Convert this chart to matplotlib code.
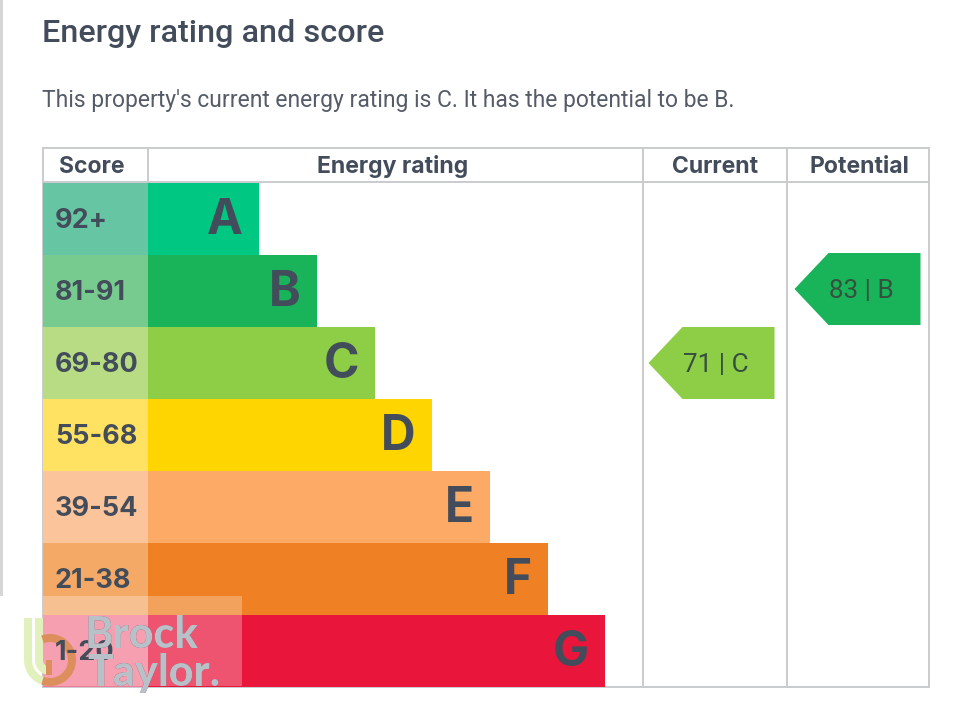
"""Energy rating chart."""
import matplotlib
matplotlib.use('Agg')
import matplotlib.pyplot as plt
from matplotlib.patches import Polygon, Rectangle, Arc

# values
score_labels = ['92+', '81-91', '69-80', '55-68', '39-54', '21-38', '1-20']
rating_letters = ['A', 'B', 'C', 'D', 'E', 'F', 'G']
bar_colors = ['#00c781', '#19b459', '#8dce46', '#ffd500', '#fcaa65', '#ef8023', '#e9153b']
cell_colors = ['#66c6a3', '#78cb8f', '#b7dc84', '#ffe261', '#fcc49b', '#f4a967', '#f27c95']
bar_lengths = [111, 169, 227, 284, 342, 400, 457]
headers = ['Score', 'Energy rating', 'Current', 'Potential']

current_value = 71
current_letter = 'C'
potential_value = 83
potential_letter = 'B'

TEXT = '#434c5a'
LINE = '#c9cbce'
GREEN_LOGO = '#e2f0bd'
ORANGE_LOGO = '#dc8f5c'

plt.rcParams['font.family'] = 'Roboto'

fig = plt.figure(figsize=(9.71, 7.2), dpi=100)
ax = fig.add_axes([0, 0, 1, 1])
ax.set_xlim(0, 971)
ax.set_ylim(720, 0)
ax.axis('off')


def px(size):
    return size * 0.72


# page edge
ax.add_patch(Rectangle((0, 0), 2.5, 596, color='#d6d6d6', lw=0))

# headings
ax.text(42, 34, 'Energy rating and score', fontsize=px(32.4), color=TEXT,
        fontweight='medium', va='center', ha='left')
ax.text(42, 101, "This property's current energy rating is C. It has the potential to be B.",
        fontsize=px(22.85), color='#555c68', va='center', ha='left')

# table lines, under the bars
for x in [43, 643, 787, 929]:
    ax.plot([x, x], [148, 687], color=LINE, lw=1.4, zorder=0.5)
ax.plot([148, 148], [148, 182], color=LINE, lw=1.4, zorder=0.5)
for y in [148, 182, 687]:
    ax.plot([43, 929], [y, y], color=LINE, lw=1.4, zorder=0.5)

# bars
row_top = 183
row_h = 72
bar_left = 148
for i, length in enumerate(bar_lengths):
    y = row_top + i * row_h
    ax.barh(y + row_h / 2, 105, height=row_h, left=43, color=cell_colors[i], lw=0)
    ax.barh(y + row_h / 2, length, height=row_h, left=bar_left, color=bar_colors[i], lw=0)
    ax.text(55, y + row_h / 2 + 2, score_labels[i], fontsize=px(27), fontweight='bold',
            color=TEXT, ha='left', va='center', family='Inter', zorder=7.5 if i == 6 else 3)
    ax.text(bar_left + length - 16, y + row_h / 2 + 2, rating_letters[i], fontsize=px(48),
            fontweight='bold', color=TEXT, ha='right', va='center', family='Inter')

header_x = [92, 393, 715, 859]
for x, label in zip(header_x, headers):
    ax.text(x, 167, label, fontsize=px(23), fontweight='bold', color=TEXT,
            ha='center', va='center', family='Inter')


def arrow(right, top, color, label):
    left = right - 126
    pts = [(left, top + 36), (left + 34, top), (right, top), (right, top + 72), (left + 34, top + 72)]
    ax.add_patch(Polygon(pts, closed=True, color=color, lw=0, zorder=3))
    ax.text(left + 67, top + 38, label, fontsize=px(26), color='#36503f',
            ha='center', va='center', zorder=4)


arrow(774.5, 327, bar_colors[rating_letters.index(current_letter)],
      f'{current_value} | {current_letter}')
arrow(920.5, 253, bar_colors[rating_letters.index(potential_letter)],
      f'{potential_value} | {potential_letter}')

# watermark: white panel, logo, name
ax.add_patch(Rectangle((43, 596), 199, 90, color='white', alpha=0.27, lw=0, zorder=5))
for x in [28, 39]:
    ax.plot([x, x], [618, 660], color=GREEN_LOGO, lw=px(8), solid_capstyle='butt', zorder=6)
ax.add_patch(Arc((50, 660), 44, 44, theta1=110, theta2=180, color=GREEN_LOGO, lw=px(8), zorder=6))
ax.add_patch(Arc((50, 660), 22, 22, theta1=90, theta2=180, color=GREEN_LOGO, lw=px(8), zorder=6))
ax.add_patch(Arc((50, 660), 44, 44, theta1=-110, theta2=110, color=ORANGE_LOGO, lw=px(8), zorder=6))
ax.plot([49, 49], [660, 675], color=ORANGE_LOGO, lw=px(6), solid_capstyle='butt', zorder=6)

panel_clip = Rectangle((0, 600), 300, 86, transform=ax.transData)
below_clip = Rectangle((0, 686), 300, 30, transform=ax.transData)
for label, x, y in [('Brock', 142, 635), ('Taylor.', 154, 673)]:
    t = ax.text(x, y, label, fontsize=px(43), fontweight='black', color='#9c1a3e', alpha=0.8,
                ha='center', va='center', zorder=8, family='Lato')
    t.set_clip_path(panel_clip)
    g = ax.text(x, y, label, fontsize=px(43), fontweight='black', color='#b8c0c8',
                ha='center', va='center', zorder=8, family='Lato')
    g.set_clip_path(below_clip)

fig.savefig('out.png', dpi=100, facecolor='white')
plt.close(fig)
